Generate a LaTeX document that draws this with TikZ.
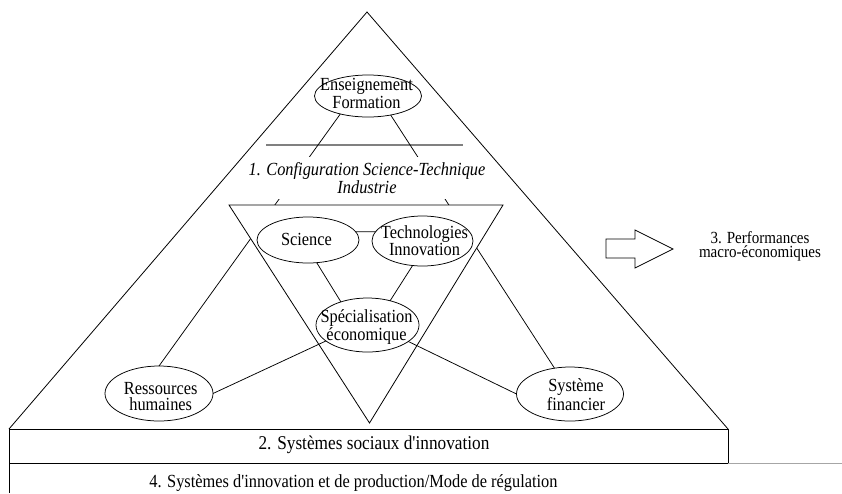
\documentclass[tikz,border=0pt]{standalone}
\usepackage{fontspec}
\setmainfont{Liberation Serif}[FakeStretch=0.885, Ligatures=TeXOff]
\usetikzlibrary{shapes.geometric}
\tikzset{
  lbl/.style={font=\fontsize{18.5}{15}\selectfont, align=center, inner sep=0pt},
  oval/.style={ellipse, draw, fill=white, inner sep=0pt, outer sep=0pt, line width=0.75pt},
  link/.style={line width=0.75pt},
  frame/.style={line width=0.8pt},
}
\begin{document}
\begin{tikzpicture}[x=1pt, y=-1pt]
\useasboundingbox (0,0) rectangle (842,493);
% outer pyramid and boxes
\draw[frame] (9,429) -- (367,12) -- (728,429);
\draw[frame] (9,429) rectangle (728,463);
\draw[gray!70, line width=0.8pt] (728,463) -- (842,463);
\draw[frame] (9,463) -- (9,493);
% grey separator
\draw[gray, line width=1.6pt] (266,145) -- (463,145);
% ellipses
\node[oval, minimum width=107pt, minimum height=42pt] (ens) at (368,96) {};
\node[oval, minimum width=108pt, minimum height=55pt] (ress) at (159,393.5) {};
\node[oval, minimum width=107pt, minimum height=54pt] (sys) at (570,394) {};
% long links
\draw[link] (ens.213) -- (ress.north);
\draw[link] (ens.320) -- (sys.121);
% inverted triangle
\draw[frame, fill=white] (229,205) -- (503,205) -- (369.5,423) -- cycle;
% configuration label
\node[lbl, font=\fontsize{18.5}{14.3}\selectfont\itshape, fill=white, minimum height=42pt, inner xsep=2pt] (cfg) at (367,178) {1. Configuration Science-Technique\\Industrie};
% inner ellipses
\node[oval, minimum width=102pt, minimum height=46pt] (sci) at (308,240) {};
\node[oval, minimum width=101pt, minimum height=50pt] (tech) at (422.5,241) {};
\node[oval, minimum width=103pt, minimum height=54pt] (spec) at (367.5,325) {};
% inner links
\draw[link] (sci.10) -- (tech.169);
\draw[link] (sci.291) -- (spec.139);
\draw[link] (tech.248) -- (spec.47);
\draw[link] (spec.201) -- (ress.east);
\draw[link] (spec.338) -- (sys.west);
% texts in ellipses (base = baseline of last line)
\node[lbl, anchor=base] (tens) at (366.5,108) {Enseignement\\Formation};
\node[lbl, anchor=base] (tsci) at (306.5,245) {Science};
\node[lbl, anchor=base] (ttech) at (424.5,255.7) {Technologies\\Innovation};
\node[lbl, anchor=base, font=\fontsize{18.5}{14}\selectfont] (tspec) at (366.5,340.7) {Spécialisation\\économique};
\node[lbl, anchor=base, font=\fontsize{18.5}{16.5}\selectfont] (tress) at (160.7,410.7) {Ressources\\humaines};
\node[lbl, anchor=base] (tsys) at (576,410) {Système\\financier};
% box texts
\node[lbl, anchor=base, font=\fontsize{19.5}{15}\selectfont] (tsoc) at (374,449.3) {2. Systèmes sociaux d'innovation};
\node[lbl, anchor=base] (treg) at (353.5,487) {4. Systèmes d'innovation et de production/Mode de régulation};
% arrow and performances
\draw[link] (606,239) -- (635,239) -- (635,230) -- (673,249) -- (635,268) -- (635,258) -- (606,258) -- cycle;
\node[lbl, anchor=base, font=\fontsize{17}{14}\selectfont] (perf) at (760,257) {3. Performances\\macro-économiques};
\end{tikzpicture}
\end{document}
